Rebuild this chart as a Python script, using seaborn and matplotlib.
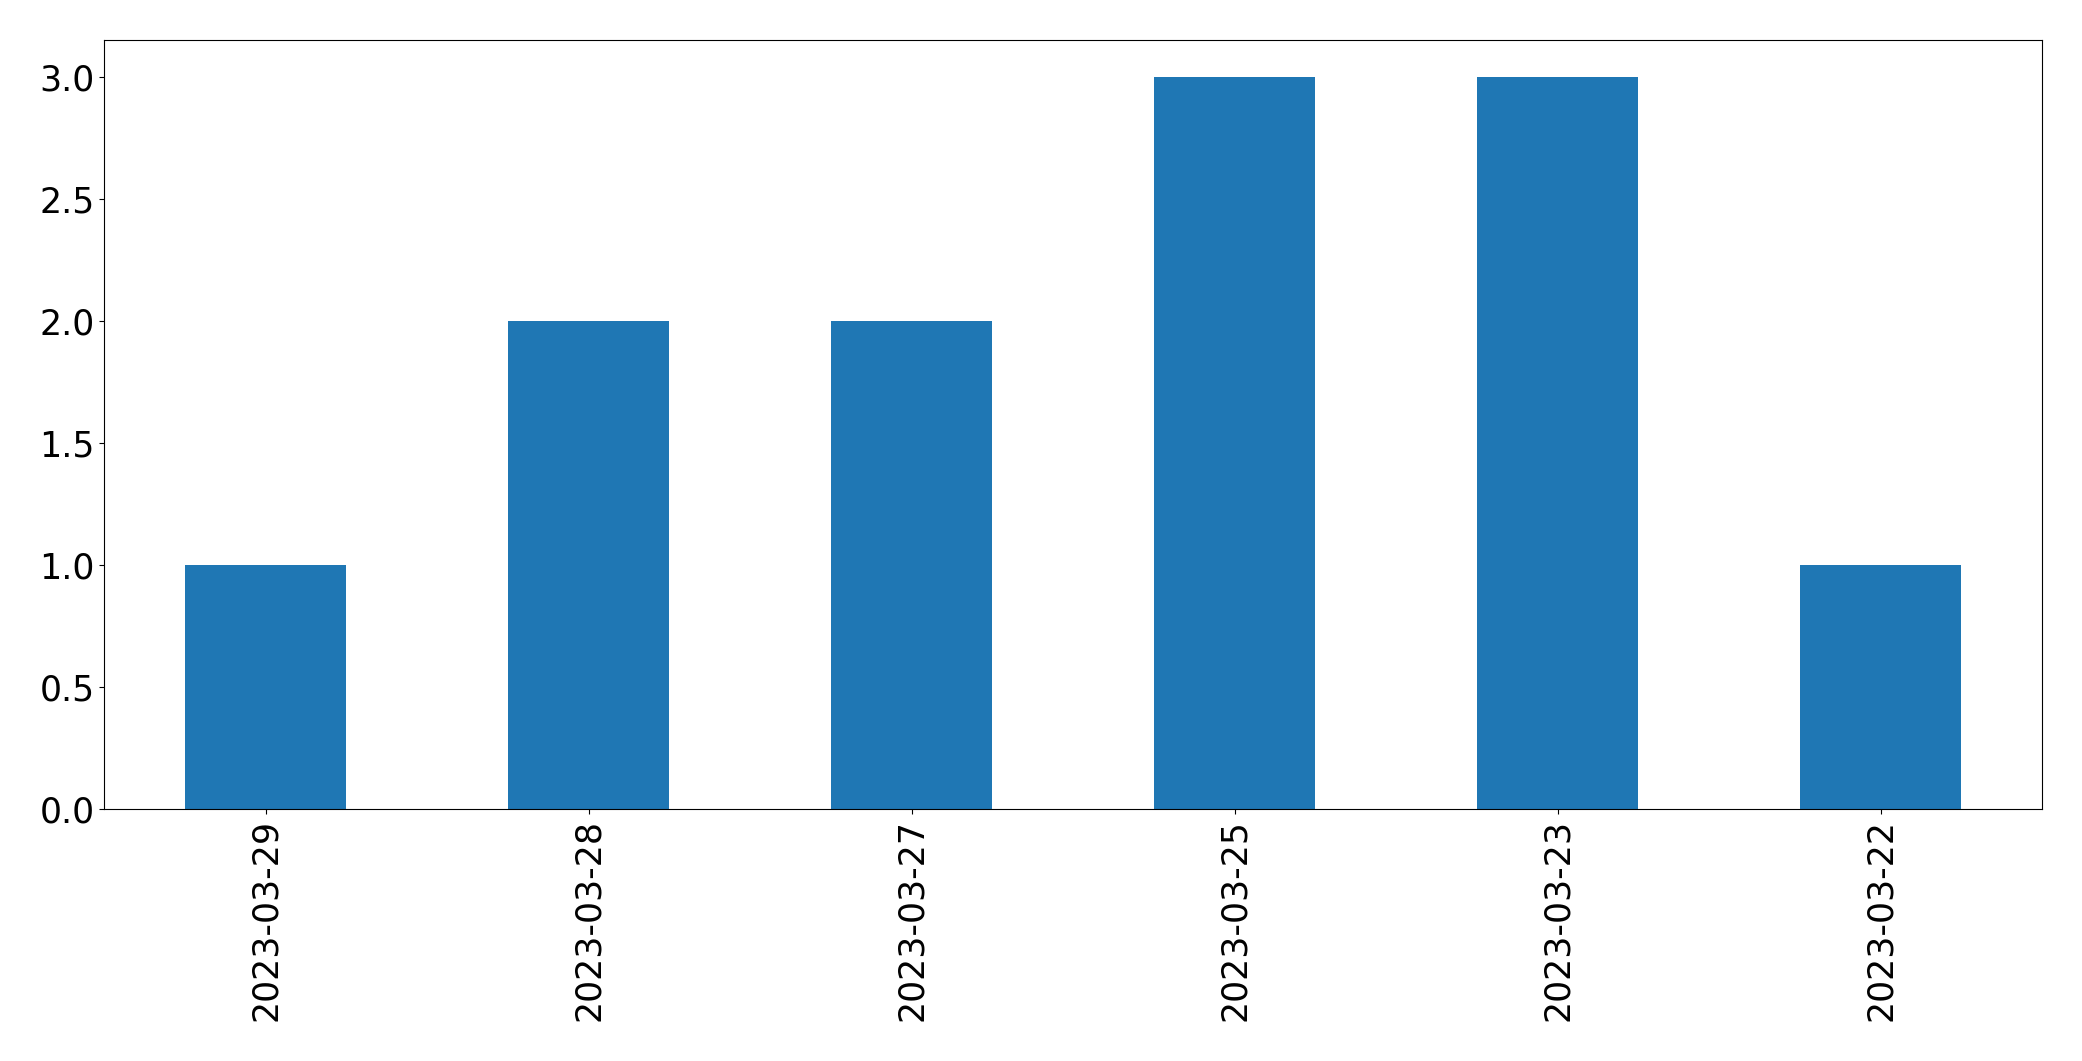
import matplotlib
matplotlib.use("Agg")
import matplotlib.pyplot as plt
import seaborn as sns
import pandas as pd

dates = ["2023-03-29", "2023-03-28", "2023-03-27", "2023-03-25", "2023-03-23", "2023-03-22"]
counts = [1, 2, 2, 3, 3, 1]

df = pd.DataFrame({"date": dates, "count": counts})

fig, ax = plt.subplots(figsize=(20.82, 10.61), dpi=100)
sns.barplot(data=df, x="date", y="count", color="#1f77b4", saturation=1,
            width=0.5, order=dates, ax=ax, errorbar=None)
ax.set_xlim(-0.5, len(dates) - 0.5)
ax.set_ylim(0, 3.15)
ax.set_yticks([0, 0.5, 1.0, 1.5, 2.0, 2.5, 3.0])
ax.set_yticklabels(["0.0", "0.5", "1.0", "1.5", "2.0", "2.5", "3.0"])
ax.tick_params(axis="both", labelsize=25)
ax.tick_params(axis="x", labelrotation=90)
ax.set_xlabel("")
ax.set_ylabel("")
for s in ax.spines.values():
    s.set_visible(True)
    s.set_color("black")
fig.subplots_adjust(left=0.05, right=0.9808, top=0.9623, bottom=0.2375)
fig.savefig("out.png", dpi=100)
